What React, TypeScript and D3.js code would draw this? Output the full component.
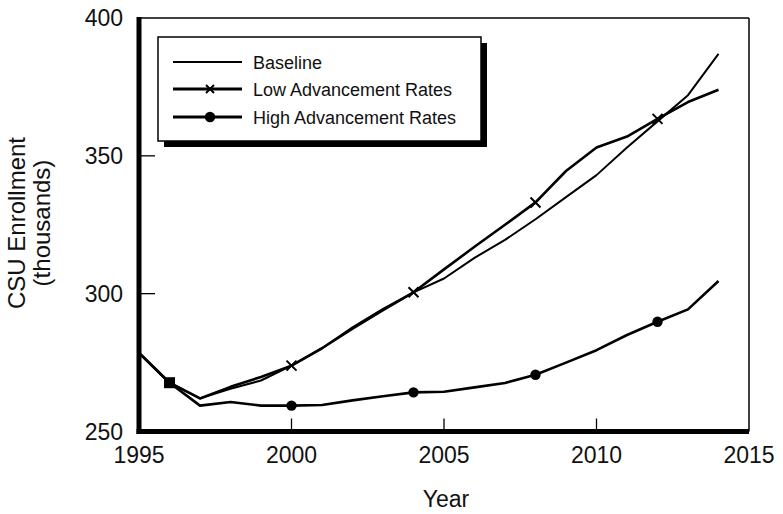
import * as d3 from "d3";

const years = d3.range(1995, 2015);
const baseline = [278.5, 267.7, 262, 265.5, 268.5, 273.9, 280.2, 287.8, 294.5, 300.5, 305.5, 313, 319.5, 327, 335, 343, 353, 362.5, 372, 387];
const lowAdv = [278.5, 267.7, 262, 266.2, 269.8, 273.9, 280.2, 287.3, 294, 300.5, 308.8, 317, 325, 333.1, 344.5, 353, 357, 363.4, 369.5, 374];
const highAdv = [278.5, 267.7, 259.4, 260.7, 259.4, 259.4, 259.6, 261.3, 262.8, 264.2, 264.4, 266, 267.6, 270.6, 275, 279.5, 285, 289.8, 294.3, 304.6];
const markerYears = [1996, 2000, 2004, 2008, 2012];
const xTicks = [1995, 2000, 2005, 2010, 2015];
const yTicks = [250, 300, 350, 400];
const legendLabels = ["Baseline", "Low Advancement Rates", "High Advancement Rates"];

const W = 783;
const H = 514;
const font = "'Liberation Sans', Arial, Helvetica, sans-serif";

export default function App() {
  const x = d3.scaleLinear().domain([1995, 2015]).range([139, 749]);
  const y = d3.scaleLinear().domain([250, 400]).range([431.5, 18]);

  const line = d3
    .line<number>()
    .x((_, i) => x(years[i]))
    .y((d) => y(d));

  const valueAt = (arr: number[], yr: number) => arr[years.indexOf(yr)];

  const cross = (cx: number, cy: number, s = 5) =>
    `M${cx - s},${cy - s}L${cx + s},${cy + s}M${cx - s},${cy + s}L${cx + s},${cy - s}`;

  // legend geometry
  const lg = { x: 158, y: 37, w: 323, h: 104 };
  const rowY = [62, 89, 117];

  return (
    <svg
      width={W}
      height={H}
      style={{ position: "absolute", left: 0, top: 0, background: "#fff" }}
      fontFamily={font}
    >
      <rect width={W} height={H} fill="#fff" />

      {/* frame: thin top/right, thick left/bottom */}
      <line x1={x(1995)} x2={x(2015)} y1={y(400)} y2={y(400)} stroke="#000" strokeWidth={1.5} />
      <line x1={x(2015)} x2={x(2015)} y1={y(400)} y2={y(250)} stroke="#000" strokeWidth={1.5} />
      <line x1={x(1995)} x2={x(1995)} y1={y(400) - 1} y2={y(250) + 2.5} stroke="#000" strokeWidth={5} />
      <line x1={x(1995) - 2.5} x2={x(2015)} y1={y(250)} y2={y(250)} stroke="#000" strokeWidth={5} />

      {/* inward ticks */}
      {yTicks.slice(1, -1).map((t) => (
        <line key={t} x1={x(1995)} x2={x(1995) + 16} y1={y(t)} y2={y(t)} stroke="#000" strokeWidth={1.3} />
      ))}
      {xTicks.slice(1, -1).map((t) => (
        <line key={t} x1={x(t)} x2={x(t)} y1={y(250)} y2={y(250) - 13} stroke="#000" strokeWidth={1.3} />
      ))}

      {/* tick labels */}
      {yTicks.map((t) => (
        <text key={t} x={123} y={y(t) + 8} fontSize={23} textAnchor="end" fill="#111">
          {t}
        </text>
      ))}
      {xTicks.map((t) => (
        <text key={t} x={x(t)} y={463} fontSize={23} textAnchor="middle" fill="#111">
          {t}
        </text>
      ))}

      {/* axis titles */}
      <text x={446} y={507} fontSize={23} textAnchor="middle" fill="#111">
        Year
      </text>
      <g transform="translate(0,223) rotate(-90)">
        <text x={0} y={25} fontSize={24} textAnchor="middle" fill="#111">
          CSU Enrollment
        </text>
        <text x={0} y={50} fontSize={24} textAnchor="middle" fill="#111">
          (thousands)
        </text>
      </g>

      {/* series */}
      <path d={line(baseline) ?? ""} fill="none" stroke="#000" strokeWidth={2} strokeLinejoin="round" />
      <path d={line(lowAdv) ?? ""} fill="none" stroke="#000" strokeWidth={2.6} strokeLinejoin="round" />
      <path d={line(highAdv) ?? ""} fill="none" stroke="#000" strokeWidth={2.6} strokeLinejoin="round" />

      {markerYears.map((yr) => {
        const lv = valueAt(lowAdv, yr);
        const hv = valueAt(highAdv, yr);
        // where both markers coincide the print shows a filled square
        if (lv === hv) {
          return <rect key={yr} x={x(yr) - 5.5} y={y(lv) - 5.5} width={11} height={11} fill="#000" />;
        }
        return (
          <g key={yr}>
            <path d={cross(x(yr), y(lv))} stroke="#000" strokeWidth={2} fill="none" />
            <circle cx={x(yr)} cy={y(hv)} r={5.2} fill="#000" />
          </g>
        );
      })}

      {/* legend */}
      <rect x={lg.x + 6} y={lg.y + 6} width={lg.w} height={lg.h} fill="#000" />
      <rect x={lg.x} y={lg.y} width={lg.w} height={lg.h} fill="#fff" stroke="#000" strokeWidth={1.5} />
      {legendLabels.map((label, i) => (
        <g key={label}>
          <line x1={173} x2={242} y1={rowY[i]} y2={rowY[i]} stroke="#000" strokeWidth={i === 0 ? 2 : 2.8} />
          {i === 1 && <path d={cross(210, rowY[i], 4)} stroke="#000" strokeWidth={2} fill="none" />}
          {i === 2 && <circle cx={210} cy={rowY[i]} r={5.2} fill="#000" />}
          <text x={253} y={rowY[i] + 6.5} fontSize={18} fill="#111">
            {label}
          </text>
        </g>
      ))}
    </svg>
  );
}
